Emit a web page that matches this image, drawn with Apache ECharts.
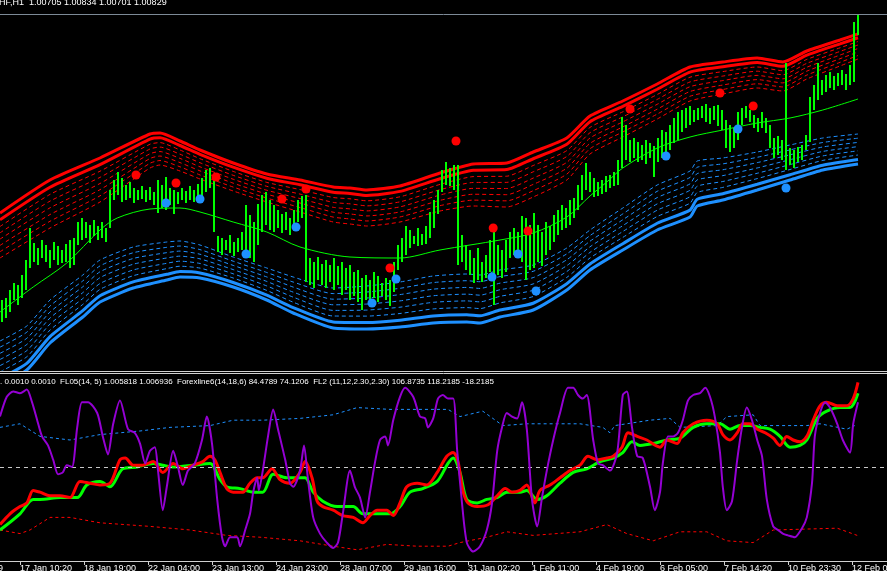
<!DOCTYPE html>
<html><head><meta charset="utf-8">
<script src="https://cdn.jsdelivr.net/npm/echarts@6/dist/echarts.min.js"></script>
<style>html,body{margin:0;padding:0;background:#000;overflow:hidden}#c{width:887px;height:571px}</style>
</head><body><div id="c"></div>
<script>
// ---------- DATA ----------
const barHigh = [0.9800,0.9802,0.9810,0.9817,0.9815,0.9825,0.9840,0.9872,0.9857,0.9852,
0.9860,0.9855,0.9850,0.9858,0.9854,0.9850,0.9856,0.9860,0.9862,0.9878,
0.9882,0.9878,0.9875,0.9880,0.9874,0.9878,0.9872,0.9910,0.9920,0.9928,
0.9922,0.9915,0.9918,0.9912,0.9910,0.9914,0.9910,0.9913,0.9908,0.9920,
0.9915,0.9923,0.9912,0.9910,0.9908,0.9912,0.9909,0.9914,0.9910,0.9916,
0.9922,0.9930,0.9932,0.9925,0.9864,0.9862,0.9860,0.9865,0.9858,0.9862,
0.9868,0.9895,0.9885,0.9878,0.9896,0.9905,0.9908,0.9900,0.9895,0.9890,
0.9886,0.9888,0.9882,0.9890,0.9900,0.9904,0.9905,0.9842,0.9838,0.9843,
0.9836,0.9840,0.9835,0.9842,0.9834,0.9838,0.9832,0.9835,0.9828,0.9830,
0.9822,0.9825,0.9820,0.9828,0.9824,0.9817,0.9822,0.9820,0.9838,0.9855,
0.9862,0.9874,0.9870,0.9864,0.9872,0.9866,0.9874,0.9888,0.9900,0.9910,
0.9930,0.9938,0.9932,0.9935,0.9935,0.9865,0.9855,0.9850,0.9842,0.9852,
0.9838,0.9845,0.9860,0.9872,0.9855,0.9850,0.9860,0.9868,0.9872,0.9868,
0.9884,0.9882,0.9875,0.9887,0.9875,0.9868,0.9878,0.9874,0.9885,0.9890,
0.9895,0.9892,0.9900,0.9902,0.9915,0.9925,0.9937,0.9928,0.9922,0.9918,
0.9920,0.9924,0.9925,0.9928,0.9940,0.9983,0.9975,0.9960,0.9962,0.9958,
0.9955,0.9960,0.9957,0.9954,0.9962,0.9970,0.9968,0.9975,0.9982,0.9988,
0.9990,0.9992,0.9994,0.9990,0.9992,0.9994,0.9996,0.9992,0.9994,0.9995,
0.9990,0.9980,0.9975,0.9972,0.9988,0.9992,0.9994,0.9990,0.9985,0.9982,
0.9988,0.9982,0.9975,0.9962,0.9964,0.9960,1.0037,0.9952,0.9950,0.9953,
0.9955,0.9965,1.0003,1.0015,1.0037,1.0020,1.0025,1.0028,1.0024,1.0027,
1.0030,1.0026,1.0035,1.0078,1.0087];
const barLow = [0.9778,0.9782,0.9788,0.9800,0.9795,0.9802,0.9810,0.9832,0.9838,0.9835,
0.9842,0.9838,0.9832,0.9840,0.9835,0.9837,0.9838,0.9832,0.9835,0.9855,
0.9860,0.9862,0.9857,0.9864,0.9860,0.9862,0.9858,0.9872,0.9900,0.9905,
0.9898,0.9900,0.9902,0.9897,0.9900,0.9901,0.9898,0.9900,0.9895,0.9887,
0.9892,0.9890,0.9895,0.9886,0.9896,0.9900,0.9897,0.9900,0.9898,0.9902,
0.9904,0.9908,0.9912,0.9868,0.9848,0.9845,0.9850,0.9847,0.9844,0.9848,
0.9850,0.9845,0.9842,0.9838,0.9855,0.9868,0.9875,0.9870,0.9868,0.9872,
0.9867,0.9870,0.9865,0.9872,0.9878,0.9882,0.9818,0.9815,0.9812,0.9820,
0.9815,0.9812,0.9818,0.9810,0.9815,0.9805,0.9810,0.9800,0.9804,0.9798,
0.9790,0.9800,0.9794,0.9802,0.9798,0.9804,0.9800,0.9794,0.9808,0.9830,
0.9838,0.9845,0.9852,0.9856,0.9854,0.9855,0.9856,0.9862,0.9872,0.9886,
0.9908,0.9915,0.9914,0.9910,0.9835,0.9838,0.9830,0.9825,0.9817,0.9820,
0.9818,0.9822,0.9828,0.9795,0.9825,0.9822,0.9828,0.9842,0.9845,0.9848,
0.9838,0.9820,0.9830,0.9832,0.9838,0.9834,0.9845,0.9850,0.9858,0.9865,
0.9870,0.9872,0.9875,0.9882,0.9890,0.9900,0.9910,0.9908,0.9903,0.9904,
0.9906,0.9908,0.9912,0.9914,0.9915,0.9932,0.9940,0.9938,0.9942,0.9938,
0.9940,0.9936,0.9942,0.9923,0.9938,0.9942,0.9945,0.9950,0.9957,0.9960,
0.9968,0.9972,0.9975,0.9978,0.9980,0.9982,0.9978,0.9976,0.9980,0.9974,
0.9970,0.9952,0.9948,0.9952,0.9960,0.9975,0.9982,0.9978,0.9972,0.9968,
0.9972,0.9967,0.9952,0.9942,0.9945,0.9940,0.9930,0.9935,0.9932,0.9938,
0.9940,0.9950,0.9958,0.9990,1.0000,1.0005,1.0008,1.0012,1.0010,1.0014,
1.0015,1.0010,1.0015,1.0018,1.0065];

// upper (red) envelope: sample bar positions, outer line, distance to innermost level
const redBandX = [-0.5,12,24.5,37,39.5,44.5,49.5,57.8,66.2,74.5,82.8,87,91.2,99.5,109.5,117.8,126.2,132.8,141.2,147,155.2,163.8,172,180.2,188.8,195.2,201.2,209.5,214];
const redBandOuter = [0.9887,0.9920,0.9942,0.9966,0.9967,0.9959,0.9950,0.9937,0.9926,0.9920,0.9913,0.9912,0.9910,0.9914,0.9927,0.9936,0.9937,0.9948,0.9962,0.9984,0.9999,1.0016,1.0033,1.0038,1.0042,1.0038,1.0049,1.0060,1.0066];
const redBandSpread = [0.0045,0.0048,0.0044,0.0034,0.0032,0.0030,0.0029,0.0028,0.0028,0.0032,0.0035,0.0036,0.0036,0.0036,0.0038,0.0042,0.0044,0.0045,0.0042,0.0038,0.0036,0.0035,0.0034,0.0032,0.0030,0.0029,0.0028,0.0026,0.0025];
// lower (blue) envelope
const blueBandX = [-0.5,6.2,12,20.2,24.5,32.8,41.2,44.5,49.5,57.8,66.2,72.8,82.8,91.2,99.5,107.8,116.2,119.5,124.5,132.8,141.2,147,155.2,163.8,172,173.8,180.2,188.8,197,205.2,214];
const blueBandOuter = [0.9715,0.9730,0.9757,0.9783,0.9798,0.9812,0.9820,0.9823,0.9822,0.9813,0.9800,0.9787,0.9772,0.9771,0.9773,0.9777,0.9778,0.9777,0.9783,0.9790,0.9810,0.9830,0.9850,0.9870,0.9883,0.9894,0.9900,0.9910,0.9920,0.9930,0.9936];
const blueBandSpread = [0.0044,0.0044,0.0043,0.0042,0.0042,0.0041,0.0038,0.0036,0.0033,0.0030,0.0032,0.0036,0.0040,0.0043,0.0045,0.0047,0.0048,0.0048,0.0047,0.0045,0.0042,0.0040,0.0042,0.0045,0.0046,0.0045,0.0042,0.0038,0.0035,0.0032,0.0030];
const bandLevels = [0, 0.15, 0.30, 0.44, 0.58, 0.72, 0.86, 1.0];

const maX = [-0.5,7.8,16.2,24.5,28.8,37,44.5,49.5,57.8,66.2,74.5,87,99.5,109.5,124.5,132.8,141.2,147,151.2,155.2,163.8,172,180.2,188.8,197,205.2,214];
const maValue = [0.9788,0.9813,0.9837,0.9870,0.9882,0.9891,0.9892,0.9888,0.9878,0.9868,0.9853,0.9843,0.9842,0.9850,0.9860,0.9867,0.9883,0.9904,0.9918,0.9932,0.9952,0.9963,0.9970,0.9977,0.9982,0.9990,1.0001];

const sellSignalBar = [33.5,43.5,53.5,70,76,97,113.5,122.8,131.5,157,179.5,187.8];
const sellSignalPrice = [0.9925,0.9917,0.9923,0.9901,0.9911,0.9832,0.9959,0.9872,0.9869,0.9991,1.0007,0.9994];
const buySignalBar = [41,49.5,61,73.5,92.5,98.5,122.5,129,133.5,166,184,196];
const buySignalPrice = [0.9897,0.9901,0.9846,0.9873,0.9797,0.9821,0.9823,0.9846,0.9809,0.9944,0.9971,0.9912];

// indicator window
const oscPurple = [[-0.5,78],[1.2,89],[2.8,92],[4.5,91],[6.2,93],[7.5,86],[8.8,76],[10,67],[11.5,62],[12.8,54],[14,46],[15.2,47],[16.2,51],[17.5,50],[18.8,72],[20,86],[21.5,86],[23.8,80],[25.2,67],[26.5,57],[27.8,74],[29.5,87],[31.5,71],[33.2,69],[34.5,63],[35.8,52],[37,59],[38.2,61],[39,48],[40.2,26],[41.2,39],[42.8,59],[44,50],[45.2,40],[46.5,48],[48.2,52],[50,65],[51.2,78],[52.5,63],[53.8,32],[55,11],[55.8,6],[57,11],[58.8,11],[59.5,6],[60.8,15],[62,24],[62.8,36],[63.8,44],[64.2,37],[65.2,48],[66.5,67],[67.8,82],[69,71],[70.8,54],[72,41],[72.8,39],[74.5,48],[75.5,62],[76.5,43],[77.8,22],[79.5,13],[81.2,8],[82.8,5],[84,8],[85.2,24],[87,48],[88.2,39],[89.5,33],[90.8,22],[92,36],[93.2,52],[94.5,65],[95.8,67],[96.5,62],[97.8,76],[99.5,89],[100.8,94],[102.8,89],[104.5,78],[105.8,77],[106.5,72],[107.8,77],[109,88],[110.2,90],[111.5,88],[112.8,88],[113.8,59],[115,30],[116.2,8],[117.8,3],[119.5,6],[121.2,15],[122.5,30],[123.8,59],[125,72],[126.2,80],[127.5,78],[128.8,77],[130,86],[131.2,71],[132.5,32],[133.8,17],[135,33],[136.2,48],[137.8,65],[139.5,80],[141.5,94],[142.8,94],[144,90],[145.2,88],[146.2,90],[147.8,65],[149,52],[150.2,51],[152,48],[153.8,58],[155.2,90],[156.2,92],[157.5,72],[158.8,56],[160.2,55],[162,39],[163.2,26],[164.5,36],[165.2,52],[166.5,67],[167.8,67],[169,69],[170.2,76],[171.5,87],[172.8,90],[174.5,91],[175.8,94],[177,89],[178.2,78],[179.5,58],[180.2,39],[181.2,26],[182.5,31],[183.8,54],[185,72],[186.2,83],[187.5,76],[188.8,65],[190,56],[191.2,32],[192.8,17],[194,15],[195.2,13],[196.5,12],[198.2,11],[200,16],[201.2,22],[202.5,41],[203.2,67],[204.5,80],[205.8,86],[207,83],[208.8,74],[210.2,65],[212,58],[212.8,74],[214,86]];
const flRed = [[-0.5,18],[2,24],[4.5,28],[6.2,30],[7.8,37],[9.5,36],[12,34],[14.5,34],[17,33],[19.5,42],[22,41],[24.5,40],[27,41],[29.5,54],[30.8,55],[32.8,51],[35.2,51],[37.8,53],[40.2,47],[42.8,52],[45.2,49],[47.8,51],[50.2,53],[52,56],[53.2,54],[54.5,47],[56.2,38],[57.8,36],[60.2,36],[62,41],[63.8,44],[65.2,44],[67.5,49],[69.5,43],[72,41],[74.5,47],[75.8,53],[77.5,44],[78.8,31],[80.2,28],[82.8,26],[85.2,23],[87.8,22],[90.2,19],[92,23],[93.8,26],[96.2,26],[97.8,23],[99.5,30],[101.2,39],[103.8,41],[106.2,40],[108.8,47],[111.2,56],[112.8,58],[114,53],[115.2,37],[116.5,30],[118.8,28],[121.5,29],[123.8,34],[125.8,38],[127.5,36],[129.5,37],[131.2,40],[133.2,30],[134.5,37],[137,40],[139.5,44],[142,48],[144.5,51],[146.5,56],[148.8,54],[151.2,55],[152.8,56],[155,61],[156.5,69],[158.8,67],[161.2,65],[164.5,61],[166.2,65],[168.8,63],[170.2,69],[172.8,74],[176.2,76],[178.8,74],[180.2,68],[182,65],[183.8,69],[185.2,74],[187,74],[188.8,71],[190.8,69],[192.8,66],[194.5,62],[196.2,67],[197.8,65],[199.5,64],[201.2,67],[202.8,76],[204.5,84],[206.2,86],[208.8,84],[211.2,84],[212.8,88],[214,97]];
const flGreen = [[-0.5,15],[4.5,24],[7.8,32],[9.5,32],[14.5,33],[18.8,33],[21.2,40],[24.5,42],[27,39],[30.2,49],[33.8,50],[37.8,52],[40.2,51],[42.8,50],[47.8,51],[52,52],[54.5,43],[56.2,39],[59.5,38],[62.8,36],[65.2,36],[67.8,46],[71.2,44],[74.5,44],[75.8,44],[77.8,36],[80.2,31],[83.8,28],[87.8,28],[90.2,24],[93.8,24],[97,24],[99.5,28],[102,36],[105.2,38],[108.8,42],[111.5,52],[112.8,55],[114.5,47],[116.2,32],[118.8,30],[121.2,32],[123.8,33],[126.2,36],[129.5,36],[131.2,37],[133.8,32],[136.2,34],[139.5,41],[142.8,47],[146.2,49],[149.5,53],[152.8,55],[155.2,58],[157.5,64],[159.5,62],[162.8,63],[166.2,65],[169.5,66],[172.8,72],[176.2,74],[179.5,74],[182,71],[184.5,73],[187,73],[189.5,72],[192,71],[194.5,67],[197,61],[199.5,62],[201.2,65],[203.8,77],[206.2,81],[209.5,83],[212,83],[214,91]];
const levelUpper = [[-0.5,72],[4.5,74],[9.5,67],[17,65],[24.5,68],[34.5,70],[42,72],[52,73],[57.8,76],[65.2,76],[74.5,77],[82.8,79],[88.8,83],[97,82],[111.5,82],[114.5,78],[120.2,81],[125.2,73],[131.2,74],[144.5,74],[150.2,72],[152,69],[153.2,73],[162,76],[167,77],[169.5,72],[178.8,73],[181.2,78],[187.8,79],[189.5,73],[201.2,73],[204.5,74],[211.2,71],[213.2,73]];
const levelLower = [[-0.5,15],[4.5,13],[7,15],[12,22],[17,22],[24.5,19],[37,17],[47,15],[56.2,12],[64.5,11],[74.5,9],[82.8,6],[88.8,4],[96.2,7],[103.8,6],[111.5,6],[114.5,8],[121.2,11],[126.2,14],[132.8,12],[144.5,14],[151.2,18],[156.2,13],[162.8,9],[169.5,14],[176.2,14],[181.2,9],[187.8,8],[192.8,15],[208.8,16],[213.8,12]];
const oscMidLevel = 50;

const labelBars = [5,21,37,53,69,85,101,117,133,149,165,181,197,213];
const timeLabels = ['17 Jan 10:20','18 Jan 19:00','22 Jan 04:00','23 Jan 13:00','24 Jan 23:00','28 Jan 07:00','29 Jan 16:00','31 Jan 02:20','1 Feb 11:00','4 Feb 19:00','6 Feb 05:00','7 Feb 14:20','10 Feb 23:30','12 Feb 03:00'];
const headerText = 'HF,H1  1.00705 1.00834 1.00701 1.00829';
const subHeaderText = '. 0.0010 0.0010  FL05(14, 5) 1.005818 1.006936  Forexline6(14,18,6) 84.4789 74.1206  FL2 (11,12,2.30,2.30) 106.8735 118.2185 -18.2185';

// ---------- CHART ----------
const RED='#ff0000', BLUE='#1e90ff', LIME='#00ff00', PURPLE='#9400d3';
const FONT='Liberation Sans';
const chart = echarts.init(document.getElementById('c'), null, {renderer:'canvas'});

function level(xs, outer, spread, f, dir){ return xs.map((x,i)=>[x, outer[i] + dir*f*spread[i]]); }

const series = [];
[[redBandX,redBandOuter,redBandSpread,-1,RED],[blueBandX,blueBandOuter,blueBandSpread,1,BLUE]].forEach(b=>{
  bandLevels.forEach((f,k)=>{
    series.push({type:'line', xAxisIndex:0, yAxisIndex:0, data:level(b[0],b[1],b[2],f,b[3]),
      symbol:'none', smooth:0.2, silent:true, z: k<2?3:2,
      lineStyle:{color:b[4], width:k<2?3:1, type:k<2?'solid':[4,3]}});
  });
});
series.push({type:'line', xAxisIndex:0, yAxisIndex:0, data:maX.map((x,i)=>[x,maValue[i]]), symbol:'none', smooth:0.3, silent:true, z:4, lineStyle:{color:LIME,width:1}});
series.push({type:'custom', xAxisIndex:0, yAxisIndex:0, clip:true, z:5, silent:true,
  data: barHigh.map((h,i)=>[i, barLow[i], h]),
  encode:{x:0, y:[1,2]},
  renderItem:function(params, api){
    const a = api.coord([api.value(0), api.value(1)]);
    const b = api.coord([api.value(0), api.value(2)]);
    return {type:'line', shape:{x1:a[0],y1:a[1],x2:b[0],y2:b[1]}, style:{stroke:LIME, lineWidth:2}};
  }});
series.push({type:'scatter', xAxisIndex:0, yAxisIndex:0, z:6, symbolSize:9, silent:true,
  data:sellSignalBar.map((x,i)=>[x,sellSignalPrice[i]]), itemStyle:{color:RED, opacity:1}});
series.push({type:'scatter', xAxisIndex:0, yAxisIndex:0, z:6, symbolSize:9, silent:true,
  data:buySignalBar.map((x,i)=>[x,buySignalPrice[i]]), itemStyle:{color:BLUE, opacity:1}});

// indicator window
series.push({type:'line', xAxisIndex:1, yAxisIndex:1, data:levelUpper, symbol:'none', silent:true, z:2, lineStyle:{color:BLUE,width:1,type:[3,3]}});
series.push({type:'line', xAxisIndex:1, yAxisIndex:1, data:levelLower, symbol:'none', silent:true, z:2, lineStyle:{color:RED,width:1,type:[3,3]}});
series.push({type:'line', xAxisIndex:1, yAxisIndex:1, data:flGreen, symbol:'none', smooth:0.3, silent:true, z:3, lineStyle:{color:LIME,width:3}});
series.push({type:'line', xAxisIndex:1, yAxisIndex:1, data:flRed, symbol:'none', smooth:0.3, silent:true, z:4, lineStyle:{color:RED,width:3}});
series.push({type:'line', xAxisIndex:1, yAxisIndex:1, data:oscPurple, symbol:'none', smooth:0.25, silent:true, z:5, lineStyle:{color:PURPLE,width:2},
  markLine:{silent:true, symbol:'none', label:{show:false}, lineStyle:{color:'#c8c8c8',width:1,type:[4,4]}, data:[{yAxis:oscMidLevel}]}});

const tickVals = labelBars.map(b=>b-0.5);
const option = {
  backgroundColor:'#000', animation:false,
  grid:[
    {left:0, top:15, width:887, height:355, containLabel:false, outerBoundsMode:'none'},
    {left:0, top:375, width:887, height:186, containLabel:false, outerBoundsMode:'none'}
  ],
  xAxis:[
    {type:'value', gridIndex:0, min:-0.5, max:221.25, show:false},
    {type:'value', gridIndex:1, min:-0.5, max:221.25,
      axisLine:{show:true, onZero:false, lineStyle:{color:'#d0d0d0',width:1}},
      axisTick:{show:true, customValues:tickVals, length:4, inside:false, lineStyle:{color:'#d0d0d0'}},
      axisLabel:{show:true, customValues:tickVals, align:'left', margin:3, color:'#ffffff', fontSize:9, fontFamily:FONT,
        formatter:function(v){ const k = labelBars.indexOf(Math.round(v+0.5)); return k>=0?timeLabels[k]:''; }},
      splitLine:{show:false}}
  ],
  yAxis:[
    {type:'value', gridIndex:0, min:0.9730, max:1.0085, show:false, scale:true},
    {type:'value', gridIndex:1, min:-2.22, max:101.1, show:false}
  ],
  series: series,
  graphic:[
    {type:'line', shape:{x1:0,y1:14.5,x2:887,y2:14.5}, style:{stroke:'#7d8a97',lineWidth:1}, z:100},
    {type:'line', shape:{x1:0,y1:371.5,x2:887,y2:371.5}, style:{stroke:'#d0d0d0',lineWidth:1}, z:100},
    {type:'line', shape:{x1:0,y1:373.5,x2:887,y2:373.5}, style:{stroke:'#d0d0d0',lineWidth:1}, z:100},
    {type:'text', left:-1, top:-2, z:100, style:{text:headerText, fill:'#ffffff', font:'9px "Liberation Sans"'}},
    {type:'text', x:0, y:378, z:100, style:{text:subHeaderText, fill:'#ffffff', font:'8px "Liberation Sans"'}},
    {type:'text', x:3, y:564, z:100, style:{text:'16 Jan 00:59', fill:'#ffffff', font:'9px "Liberation Sans"', textAlign:'right'}}
  ]
};
chart.setOption(option);
</script></body></html>
